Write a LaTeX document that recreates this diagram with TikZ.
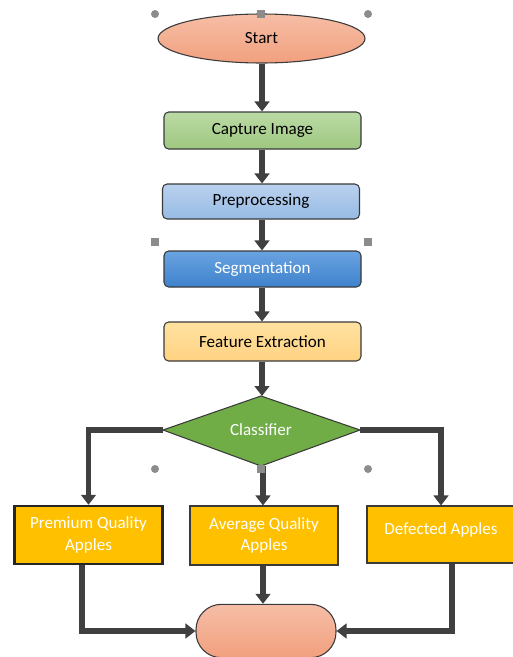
\documentclass[tikz,border=0pt]{standalone}
\usepackage{fontspec}
\setmainfont{Carlito}
\usetikzlibrary{arrows.meta,shapes.geometric}
\definecolor{arr}{HTML}{404040}
\definecolor{edge}{HTML}{3A3A3A}
\definecolor{handle}{HTML}{8C8C8C}
\definecolor{gold}{RGB}{255,192,0}
\begin{document}
\begin{tikzpicture}[x=0.75pt,y=-0.75pt,
  font=\fontsize{12.8}{16}\selectfont,
  flow/.style={line width=4pt,draw=arr,-{Triangle[width=11pt,length=7.5pt]}},
  stepbox/.style={draw=edge,line width=0.8pt,rounded corners=3.5pt,minimum width=147.75pt,inner sep=0pt,align=center},
  outbox/.style={draw=edge,line width=0.8pt,fill=gold,text=white,align=center,inner sep=0pt,minimum width=111pt,minimum height=43.5pt},
  hdot/.style={fill=handle,draw=none,circle,minimum size=6pt,inner sep=0pt},
  hsq/.style={fill=handle,draw=none,rectangle,minimum size=6pt,inner sep=0pt}]
\useasboundingbox (0,0) rectangle (513,657);
\fill[white] (0,0) rectangle (513,657);

% start
\node[ellipse,draw=edge,line width=0.8pt,top color={rgb,255:red,246;green,190;blue,166},bottom color={rgb,255:red,241;green,160;blue,126},minimum width=155.25pt,minimum height=36.75pt,inner sep=0pt] (start) at (261.5,38.5) {Start};

\node[stepbox,minimum height=27.75pt,top color={rgb,255:red,187;green,218;blue,165},bottom color={rgb,255:red,158;green,200;blue,128}] (cap) at (262.5,130.5) {Capture Image};
\node[stepbox,minimum height=26.25pt,top color={rgb,255:red,186;green,209;blue,238},bottom color={rgb,255:red,150;green,187;blue,228}] (pre) at (261,201.5) {Preprocessing};
\node[stepbox,minimum height=27pt,text=white,top color={rgb,255:red,106;green,163;blue,225},bottom color={rgb,255:red,62;green,130;blue,204}] (seg) at (262.5,269) {Segmentation};
\node[stepbox,minimum height=29.25pt,top color={rgb,255:red,255;green,226;blue,160},bottom color={rgb,255:red,255;green,210;blue,130}] (feat) at (262.5,341.5) {Feature Extraction};

% classifier diamond
\coordinate (cT) at (261,396);
\coordinate (cB) at (261,466);
\coordinate (cL) at (163,430);
\coordinate (cR) at (360,430);
\filldraw[draw=edge,line width=0.8pt,fill={rgb,255:red,112;green,173;blue,71}] (cT) -- (cR) -- (cB) -- (cL) -- cycle;
\node[text=white] (cls) at (261,430) {Classifier};

% outputs
\node[outbox,line width=1.8pt,draw=black!85] (prem) at (88.5,535) {Premium Quality\\Apples};
\node[outbox,minimum height=44.25pt] (avg) at (264,535.5) {Average Quality\\Apples};
\node[outbox,minimum height=42.75pt] (def) at (441,534.5) {};
\node[text=white,inner sep=0pt] (deft) at (441,529.5) {Defected Apples};

% end
\node[draw=edge,line width=0.8pt,rounded corners=19pt,minimum width=105pt,minimum height=40pt,inner sep=0pt,top color={rgb,255:red,246;green,190;blue,166},bottom color={rgb,255:red,241;green,160;blue,126}] (end) at (266,631) {};

% connectors
\coordinate (x0) at (262,0);
\draw[flow] (start.south -| x0) -- (cap.north -| x0);
\draw[flow] (cap.south -| x0) -- (pre.north -| x0);
\draw[flow] (pre.south -| x0) -- (seg.north -| x0);
\draw[flow] (seg.south -| x0) -- (feat.north -| x0);
\draw[flow] (feat.south -| x0) -- (cT -| x0);
\draw[flow] (cL) -| (prem.north);
\draw[flow] (cR) -| (def.north);
\coordinate (x1) at (263,0);
\draw[flow] (cB -| x1) -- (avg.north -| x1);
\draw[flow] (prem.south -| 82,0) |- (end.west);
\draw[flow] (avg.south -| x1) -- (end.north -| x1);
\draw[flow] (def.south -| 452,0) |- (end.east);

% selection handles
\node[hdot] (h1) at (155,14) {};
\node[hsq] (h2) at (261,14) {};
\node[hdot] (h3) at (368,14) {};
\node[hsq] (h4) at (155,242) {};
\node[hsq] (h5) at (368,242) {};
\node[hdot] (h6) at (155,469) {};
\node[hsq] (h7) at (261,469) {};
\node[hdot] (h8) at (368,469) {};
\end{tikzpicture}
\end{document}
